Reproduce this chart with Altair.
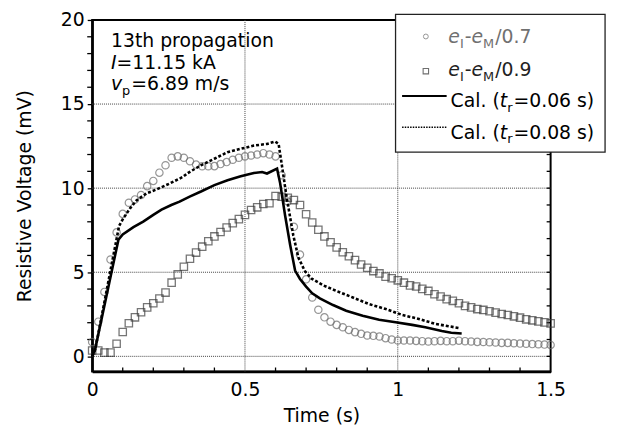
import altair as alt
import pandas as pd

# ---------------- data ----------------
time_s = [0.00, 0.02, 0.04, 0.06, 0.08, 0.10, 0.12, 0.14, 0.16, 0.18,
          0.20, 0.22, 0.24, 0.26, 0.28, 0.30, 0.32, 0.34, 0.36, 0.38,
          0.40, 0.42, 0.44, 0.46, 0.48, 0.50, 0.52, 0.54, 0.56, 0.58,
          0.60, 0.62, 0.64, 0.66, 0.68, 0.70, 0.72, 0.74, 0.76, 0.78,
          0.80, 0.82, 0.84, 0.86, 0.88, 0.90, 0.92, 0.94, 0.96, 0.98,
          1.00, 1.02, 1.04, 1.06, 1.08, 1.10, 1.12, 1.14, 1.16, 1.18,
          1.20, 1.22, 1.24, 1.26, 1.28, 1.30, 1.32, 1.34, 1.36, 1.38,
          1.40, 1.42, 1.44, 1.46, 1.48, 1.50]

circ_07 = [0.85, 2.06, 3.83, 5.76, 7.37, 8.47, 9.13, 9.33, 9.59, 10.12,
           10.43, 10.92, 11.36, 11.81, 11.89, 11.81, 11.60, 11.40, 11.30, 11.30,
           11.31, 11.43, 11.55, 11.69, 11.81, 11.89, 11.94, 12.00, 12.08, 12.00,
           11.89, 10.77, 9.20, 7.70, 6.05, 4.58, 3.50, 2.77, 2.32, 2.06,
           1.87, 1.73, 1.57, 1.44, 1.34, 1.24, 1.22, 1.18, 1.08, 1.00,
           0.94, 0.94, 0.94, 0.92, 0.90, 0.88, 0.90, 0.92, 0.90, 0.90,
           0.93, 0.90, 0.88, 0.86, 0.85, 0.84, 0.82, 0.80, 0.80, 0.78,
           0.76, 0.75, 0.73, 0.72, 0.70, 0.68]

sq_09 = [0.35, 0.35, 0.22, 0.22, 0.75, 1.45, 1.97, 2.32, 2.62, 2.91,
         3.16, 3.44, 3.79, 4.38, 4.87, 5.33, 5.80, 6.17, 6.52, 6.84,
         7.13, 7.39, 7.66, 7.92, 8.16, 8.41, 8.70, 8.86, 9.06, 9.10,
         9.53, 9.49, 9.43, 9.29, 9.00, 8.45, 7.96, 7.53, 7.13, 6.78,
         6.48, 6.19, 5.95, 5.72, 5.46, 5.27, 5.07, 4.93, 4.74, 4.64,
         4.52, 4.38, 4.22, 4.15, 4.01, 3.89, 3.69, 3.56, 3.40, 3.30,
         3.16, 3.00, 2.91, 2.81, 2.76, 2.68, 2.60, 2.52, 2.46, 2.38,
         2.30, 2.20, 2.14, 2.08, 2.02, 1.96]

cal06_t = [0.0, 0.01, 0.086, 0.10, 0.135, 0.167, 0.20, 0.227, 0.259, 0.286,
           0.319, 0.356, 0.40, 0.443, 0.486, 0.529, 0.556, 0.572, 0.605, 0.615,
           0.631, 0.648, 0.664, 0.68, 0.70, 0.72, 0.745, 0.788, 0.831, 0.885,
           0.939, 0.993, 1.047, 1.09, 1.144, 1.175, 1.209]
cal06_v = [0.0, 0.45, 6.94, 7.25, 7.68, 8.01, 8.41, 8.72, 9.00, 9.20,
           9.50, 9.80, 10.18, 10.47, 10.71, 10.90, 10.96, 10.87, 11.16, 10.30,
           8.40, 6.60, 5.10, 4.60, 4.15, 3.75, 3.45, 3.05, 2.71, 2.42,
           2.18, 2.03, 1.87, 1.73, 1.50, 1.40, 1.36]

cal08_t = [0.0, 0.01, 0.088, 0.102, 0.124, 0.146, 0.178, 0.21, 0.254, 0.297,
           0.313, 0.356, 0.40, 0.443, 0.486, 0.529, 0.572, 0.599, 0.61, 0.62,
           0.636, 0.658, 0.675, 0.696, 0.718, 0.756, 0.799, 0.853, 0.907, 0.961,
           1.015, 1.069, 1.123, 1.166, 1.204]
cal08_v = [0.0, 0.40, 7.75, 8.21, 8.80, 9.29, 9.69, 9.92, 10.28, 10.67,
           10.90, 11.36, 11.75, 12.14, 12.34, 12.53, 12.63, 12.77, 12.63, 11.45,
           9.49, 7.20, 5.86, 5.07, 4.62, 4.22, 3.89, 3.50, 3.10, 2.81,
           2.46, 2.22, 1.93, 1.79, 1.67]

x_labels = [0, 0.5, 1, 1.5]
x_grid = [0.5, 1.0]
x_minor = [0.1, 0.2, 0.3, 0.4, 0.6, 0.7, 0.8, 0.9, 1.1, 1.2, 1.3, 1.4]
y_labels = [0, 5, 10, 15, 20]
y_minor = [1, 2, 3, 4, 6, 7, 8, 9, 11, 12, 13, 14, 16, 17, 18, 19]
y_ticks = [0, 1, 2, 3, 4, 5, 6, 7, 8, 9, 10, 11, 12, 13, 14, 15, 16, 17, 18, 19, 20]
y_grid = [0, 5, 10, 15]

# ---------------- layout ----------------
W, H = 463, 355
XMIN, XMAX = 0.0, 1.5
YMIN, YMAX = -0.9, 20.0
FONT = "DejaVu Sans"
FS = 19
SUB = 13

xs = alt.Scale(domain=[XMIN, XMAX], nice=False, zero=False)
ys = alt.Scale(domain=[YMIN, YMAX], nice=False, zero=False)


def to_t(px):
    return XMIN + px * (XMAX - XMIN) / W


def to_v(py):
    return YMAX - py * (YMAX - YMIN) / H


ADV = {" ": .318, "(": .390, ")": .390, "-": .361, ".": .318, "/": .337, "=": .838,
       "A": .684, "C": .698, "I": .295, "M": .863, "a": .613, "e": .615, "g": .635,
       "h": .634, "i": .278, "k": .579, "l": .278, "m": .974, "n": .634, "o": .612,
       "p": .635, "r": .411, "s": .521, "t": .392, "v": .592}


def width(s, size):
    return sum(ADV.get(c, .636) for c in s) * size


def rich(parts, x0, y0, color):
    rows = []
    x = x0
    for txt, style in parts:
        sub = style.endswith("sub")
        size = SUB if sub else FS
        y = y0 + (4.5 if sub else 0)
        rows.append({"tt": to_t(x), "vv": to_v(y), "txt": txt, "size": size,
                     "color": color, "ital": style.startswith("i")})
        x += width(txt, size) + (1 if sub else 0)
    return rows


segs = []
segs += rich([("13th propagation", "n")], 19, 27.5, "#000000")
segs += rich([("I", "i"), ("=11.15 kA", "n")], 19, 49.2, "#000000")
segs += rich([("v", "i"), ("p", "sub"), ("=6.89 m/s", "n")], 19, 70.8, "#000000")
segs += rich([("e", "i"), ("I", "sub"), ("-", "n"), ("e", "i"), ("M", "sub"), ("/0.7", "n")],
             359.7, 23.6, "#707070")
segs += rich([("e", "i"), ("I", "sub"), ("-", "n"), ("e", "i"), ("M", "sub"), ("/0.9", "n")],
             359.7, 56.9, "#222222")
segs += rich([("Cal. (", "n"), ("t", "i"), ("r", "sub"), ("=0.06 s)", "n")], 362, 88.2, "#000000")
segs += rich([("Cal. (", "n"), ("t", "i"), ("r", "sub"), ("=0.08 s)", "n")], 362, 120.0, "#000000")
seg_df = pd.DataFrame(segs)

meas = pd.DataFrame({"t": time_s, "c07": circ_07, "s09": sq_09})
c06 = pd.DataFrame({"t": cal06_t, "v": cal06_v})
c08 = pd.DataFrame({"t": cal08_t, "v": cal08_v})
one = alt.Data(values=[{"a": 1}])

x_axis = alt.Axis(values=x_labels, format="~g", title="Time (s)", ticks=False,
                  labelPadding=9, titlePadding=8, grid=False, labelFlush=False)
y_axis = alt.Axis(values=y_labels, format="~g", title="Resistive Voltage (mV)", tickSize=5,
                  labelOverlap=False, labelPadding=3, titlePadding=26, grid=False,
                  labelFlush=False)

base_x = alt.X("t:Q", scale=xs, axis=x_axis)

gridx = alt.Chart(pd.DataFrame({"g": x_grid})).mark_rule(
    color="#444444", strokeWidth=1, strokeDash=[1, 1]).encode(x=alt.X("g:Q", scale=xs, axis=x_axis))
gridy = alt.Chart(pd.DataFrame({"g": y_grid})).mark_rule(
    color="#444444", strokeWidth=1, strokeDash=[1, 1]).encode(y=alt.Y("g:Q", scale=ys, axis=y_axis))

ticks_b = alt.Chart(pd.DataFrame({"m": x_minor})).mark_rule(color="black", strokeWidth=1.3).encode(
    x=alt.X("m:Q", scale=xs, axis=x_axis), y=alt.value(H - 4), y2=alt.value(H))
ticks_r = alt.Chart(pd.DataFrame({"m": y_ticks})).mark_rule(color="black", strokeWidth=1.3).encode(
    y=alt.Y("m:Q", scale=ys, axis=y_axis), x=alt.value(W - 4), x2=alt.value(W))
ticks_l = alt.Chart(pd.DataFrame({"m": y_minor})).mark_rule(color="black", strokeWidth=1.3).encode(
    y=alt.Y("m:Q", scale=ys, axis=y_axis), x=alt.value(-5), x2=alt.value(0))

circles = alt.Chart(meas).mark_point(shape="circle", filled=False, size=55, color="#6a6a6a",
                                     strokeWidth=1.2).encode(x=base_x, y=alt.Y("c07:Q", scale=ys, axis=y_axis))
squares = alt.Chart(meas).mark_point(shape="square", filled=False, size=55, color="#3c3c3c",
                                     strokeWidth=1.3).encode(x=base_x, y=alt.Y("s09:Q", scale=ys, axis=y_axis))
line06 = alt.Chart(c06).mark_line(color="black", strokeWidth=2.6).encode(
    x=base_x, y=alt.Y("v:Q", scale=ys, axis=y_axis))
line08 = alt.Chart(c08).mark_line(color="black", strokeWidth=2.6, strokeDash=[3, 2]).encode(
    x=base_x, y=alt.Y("v:Q", scale=ys, axis=y_axis))

box = alt.Chart(one).mark_rect(fill="white", stroke="#222222", strokeWidth=1.3).encode(
    x=alt.value(306.4), x2=alt.value(518), y=alt.value(-5.6), y2=alt.value(133.4))
leg_c = alt.Chart(one).mark_point(shape="circle", filled=False, size=24, color="#6a6a6a",
                                  strokeWidth=1).encode(x=alt.value(337), y=alt.value(16.7))
leg_s = alt.Chart(one).mark_point(shape="square", filled=False, size=30, color="#333333",
                                  strokeWidth=1.1).encode(x=alt.value(337), y=alt.value(51.7))
leg_l1 = alt.Chart(one).mark_rule(color="black", strokeWidth=2).encode(
    x=alt.value(313), x2=alt.value(358), y=alt.value(76.7))
leg_l2 = alt.Chart(one).mark_rule(color="black", strokeWidth=1.5, strokeDash=[1.5, 1.2]).encode(
    x=alt.value(313), x2=alt.value(358), y=alt.value(108.4))


def text_layer(italic):
    d = seg_df[seg_df["ital"] == italic]
    kw = {"fontStyle": "italic"} if italic else {}
    return alt.Chart(d).mark_text(font=FONT, align="left", baseline="alphabetic", **kw).encode(
        x=alt.X("tt:Q", scale=xs, axis=x_axis),
        y=alt.Y("vv:Q", scale=ys, axis=y_axis),
        text="txt:N",
        size=alt.Size("size:Q", scale=None),
        color=alt.Color("color:N", scale=None),
    )


chart = alt.layer(
    gridx, gridy, ticks_b, ticks_r, ticks_l, circles, squares, line06, line08,
    box, leg_c, leg_s, leg_l1, leg_l2, text_layer(False), text_layer(True)
).properties(
    width=W, height=H,
    autosize=alt.AutoSizeParams(type="none"),
    padding={"left": 85, "top": 10, "right": 62, "bottom": 55},
).configure_view(
    stroke="black", strokeWidth=2
).configure_axis(
    labelFont=FONT, labelFontSize=FS, labelColor="black",
    titleFont=FONT, titleFontSize=FS, titleFontWeight="normal", titleColor="black",
    domainColor="black", domainWidth=2.5, tickColor="black", tickWidth=1.3,
)

chart.save("out.html", embed_options={"renderer": "svg", "actions": False})
